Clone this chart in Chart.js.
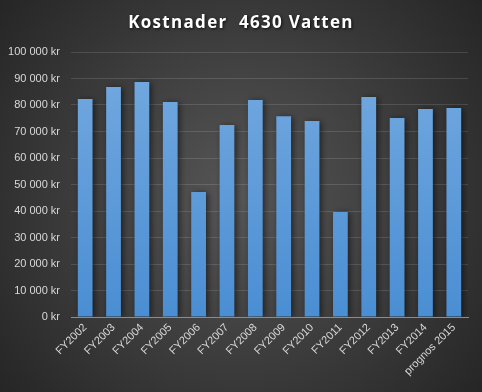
<!DOCTYPE html>
<html>
<head>
<meta charset="utf-8">
<script src="https://cdn.jsdelivr.net/npm/chart.js@4.4.0/dist/chart.umd.min.js"></script>
<style>
  html, body { margin: 0; padding: 0; background: #333; }
  #wrap { width: 482px; height: 392px; }
</style>
</head>
<body>
<div id="wrap"><canvas id="chart" width="482" height="392"></canvas></div>
<script>
const chartTitle = 'Kostnader  4630 Vatten';
const years = ['FY2002', 'FY2003', 'FY2004', 'FY2005', 'FY2006', 'FY2007', 'FY2008',
  'FY2009', 'FY2010', 'FY2011', 'FY2012', 'FY2013', 'FY2014', 'prognos 2015'];
const costs = [82300, 86800, 88700, 81100, 47200, 72500, 81900,
  75800, 74000, 39600, 83000, 75100, 78500, 78900];

// "100 000 kr"
const formatKr = v => String(v).replace(/\B(?=(\d{3})+(?!\d))/g, ' ') + ' kr';

// dark radial background + title with a shadow
const backdrop = {
  id: 'backdrop',
  beforeDraw(chart) {
    const { ctx, width, height } = chart;
    const g = ctx.createRadialGradient(width / 2, height / 2, 0, width / 2, height / 2, 320);
    g.addColorStop(0, '#565656');
    g.addColorStop(1, '#242424');
    ctx.save();
    ctx.fillStyle = g;
    ctx.fillRect(0, 0, width, height);
    ctx.restore();
  },
  beforeDatasetsDraw(chart) {
    const ctx = chart.ctx;
    ctx.save();
    ctx.shadowColor = 'rgba(0,0,0,0.55)';
    ctx.shadowBlur = 6;
    ctx.shadowOffsetX = 2;
    ctx.shadowOffsetY = 1;
  },
  afterDatasetsDraw(chart) {
    chart.ctx.restore();
  },
  afterDraw(chart) {
    const ctx = chart.ctx;
    ctx.save();
    ctx.font = 'bold 17px "Open Sans"';
    ctx.letterSpacing = '1.3px';
    ctx.textAlign = 'center';
    ctx.textBaseline = 'middle';
    ctx.shadowColor = 'rgba(0,0,0,0.8)';
    ctx.shadowBlur = 3;
    ctx.shadowOffsetX = 1;
    ctx.shadowOffsetY = 1;
    ctx.fillStyle = '#ffffff';
    ctx.fillText(chartTitle, chart.width / 2, 23);
    ctx.restore();
  }
};

function barFill(context) {
  const area = context.chart.chartArea;
  if (!area) return '#5b9bd5';
  const g = context.chart.ctx.createLinearGradient(0, area.top, 0, area.bottom);
  g.addColorStop(0, '#75aae0');
  g.addColorStop(1, '#4a8ed3');
  return g;
}

new Chart(document.getElementById('chart'), {
  type: 'bar',
  data: {
    labels: years,
    datasets: [{
      label: chartTitle,
      data: costs,
      backgroundColor: barFill,
      borderWidth: 0,
      barPercentage: 0.52,
      categoryPercentage: 1
    }]
  },
  options: {
    responsive: false,
    animation: false,
    layout: { padding: { top: 52, right: 14, left: 0, bottom: 0 } },
    plugins: {
      legend: { display: false },
      tooltip: { enabled: false }
    },
    scales: {
      x: {
        grid: { display: false, drawTicks: false },
        border: { color: '#8c8c8c', width: 1 },
        ticks: {
          color: '#d9d9d9',
          font: { family: '"Liberation Sans"', size: 11 },
          minRotation: 45,
          maxRotation: 45,
          padding: 4,
          autoSkip: false
        },
        afterFit(scale) { scale.height = 75; }
      },
      y: {
        min: 0,
        max: 100000,
        grid: { color: 'rgba(255,255,255,0.13)', drawTicks: false },
        border: { display: false },
        ticks: {
          stepSize: 10000,
          color: '#d9d9d9',
          font: { family: '"Liberation Sans"', size: 11 },
          padding: 11,
          callback: formatKr
        },
        afterFit(scale) { scale.width = 71; }
      }
    }
  },
  plugins: [backdrop]
});
</script>
</body>
</html>
